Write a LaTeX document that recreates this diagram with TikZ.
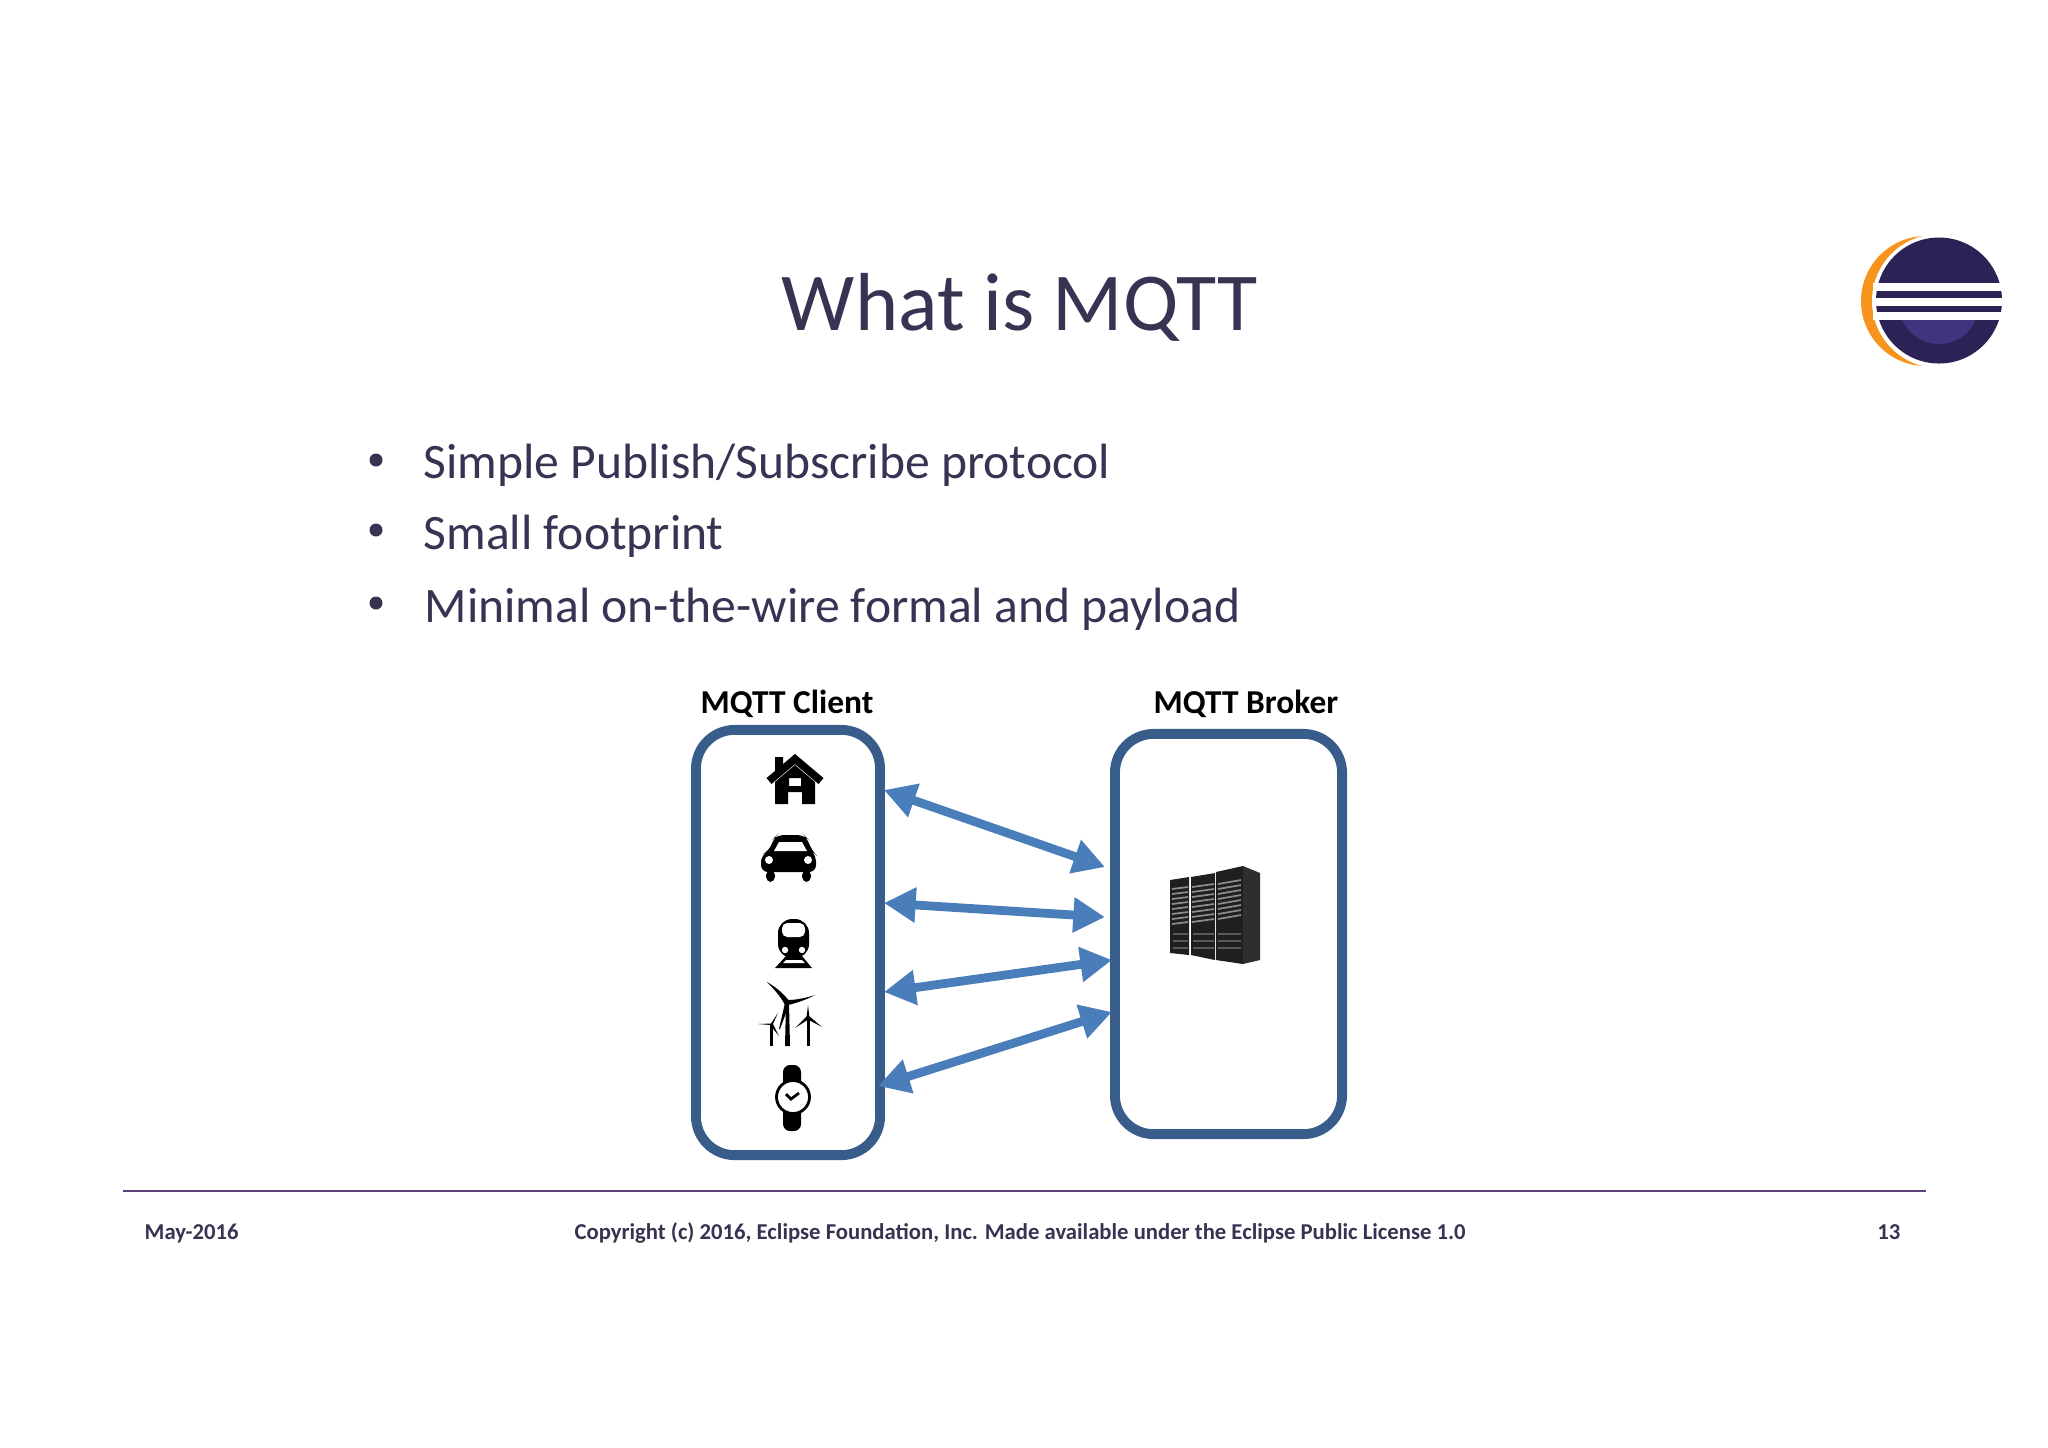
\documentclass[tikz,border=0pt]{standalone}
\usepackage{fontspec}
\setmainfont{Carlito}
\usetikzlibrary{arrows.meta}
\definecolor{slideink}{HTML}{3A3252}
\definecolor{boxblue}{HTML}{385D8A}
\definecolor{arrowblue}{HTML}{4A7EBB}
\definecolor{rulepurple}{HTML}{5E3F78}
\definecolor{logodark}{HTML}{2C2255}
\definecolor{logolight}{HTML}{40337F}
\definecolor{logoorange}{HTML}{F7941E}
\tikzset{
  titletext/.style={anchor=base,inner sep=0pt,text=slideink,font=\fontsize{23.4}{26}\selectfont},
  bullettext/.style={anchor=base west,inner sep=0pt,text=slideink,font=\fontsize{14.1}{17}\selectfont},
  foottext/.style={anchor=base,inner sep=0pt,text=slideink,font=\fontsize{6.45}{8}\selectfont\bfseries},
  headtext/.style={anchor=base west,inner sep=0pt,text=black,font=\fontsize{9.5}{12}\selectfont\bfseries},
  devicebox/.style={draw=boxblue,line width=2.8pt,rounded corners=11pt,inner sep=0pt},
  duplex/.style={draw=arrowblue,line width=2.5pt,{Stealth[length=9pt,width=9.5pt,inset=0pt]}-{Stealth[length=9pt,width=9.5pt,inset=0pt]}}
}
\begin{document}
\begin{tikzpicture}[x=0.01cm,y=-0.01cm]
        \useasboundingbox (0,0) rectangle (2048,1447);
        \fill[white] (0,0) rectangle (2048,1447);

        %heading and bullets
        \node[titletext] (Title) at (1020,330) {What is MQTT};
        \node[bullettext] (BulletA) at (423,478) {Simple Publish/Subscribe protocol};
        \node[bullettext] (BulletB) at (423,549) {Small footprint};
        \node[bullettext] (BulletC) at (424,622) {Minimal on-the-wire formal and payload};
        \foreach \y in {460,530,603}
        {
            \fill[slideink] (376,\y) circle (6.5);
        };

        %the two boxes
        \node[headtext] (ClientHead) at (700,713) {MQTT Client};
        \node[headtext] (BrokerHead) at (1153,713) {MQTT Broker};
        \node[devicebox,minimum width=1.84cm,minimum height=4.25cm] (Client) at (788,942.5) {};
        \node[devicebox,minimum width=2.27cm,minimum height=4cm] (Broker) at (1228.5,934) {};

        \coordinate (C1) at (884,790);
        \coordinate (C2) at (884,903);
        \coordinate (C3) at (884,992);
        \coordinate (C4) at (878,1086);
        \coordinate (B1) at (1105,867);
        \coordinate (B2) at (1105,917);
        \coordinate (B3) at (1112,960);
        \coordinate (B4) at (1112,1012);
        \foreach \u/\v in {C1/B1,C2/B2,C3/B3,C4/B4}
        {
            \draw[duplex] (\u) -- (\v);
        };

        %house
        \fill (775,757) -- (783,757) -- (783,768) -- (775,774) -- cycle;
        \draw[line width=2.2pt,miter limit=4] (769,781) -- (795,759) -- (821,781);
        \fill[even odd rule] (795,765) -- (815,782) -- (815,804) -- (802,804) -- (802,792) -- (788,792) -- (788,804) -- (775,804) -- (775,782) -- cycle
        (789,778) rectangle (801,786);

        %car
        \fill[rounded corners=2pt] (761,872) -- (761,855) -- (769,851) -- (774,838) -- (777,835) -- (804,835) -- (807,838) -- (812,851) -- (816,855) -- (816,872) -- cycle;
        \fill[rounded corners=1.5pt] (766,870) rectangle (775,882) (802,870) rectangle (811,882);
        \fill[white] (779,842) -- (802,842) -- (807,851) -- (774,851) -- cycle;
        \fill[white] (769,860) circle (4) (808,860) circle (4);

        %train
        \fill[rounded corners=4pt] (778,919) rectangle (809,958);
        \fill[white,rounded corners=1.5pt] (782,923) rectangle (805,937);
        \fill[white] (785,950) circle (3.2) (802,950) circle (3.2);
        \fill (786,956) -- (802,956) -- (812,968) -- (775,968) -- cycle;
        \fill[white] (786,960) -- (802,960) -- (805,963) -- (783,963) -- cycle;

        %wind turbines
        \fill (785,1046) -- (786,1003) -- (789,1003) -- (790,1046) -- cycle;
        \fill (767,982) .. controls (776,987) and (784,994) .. (790,1002) -- (785,1005) .. controls (781,997) and (774,989) .. cycle;
        \fill (815,995) .. controls (806,1000) and (796,1003) .. (788,1005) -- (787,1000) .. controls (796,1000) and (806,998) .. cycle;
        \fill (785,1003) -- (789,1005) -- (780,1029) -- (779,1029) -- cycle;
        \fill (770,1046) rectangle (773,1025);
        \fill (758,1024) -- (771,1023.5) -- (771,1025) -- cycle;
        \fill (778,1013) -- (772,1026) -- (770,1025) -- cycle;
        \fill (779,1036) -- (770,1025) -- (773,1024) -- cycle;
        \fill (807,1046) rectangle (809.5,1018);
        \fill (808,1005) -- (809.5,1018) -- (806.5,1018) -- cycle;
        \fill (795,1028) -- (807,1016) -- (809,1019) -- cycle;
        \fill (822,1027) -- (807,1019) -- (809,1016) -- cycle;

        %watch
        \fill[rounded corners=2pt] (783,1065) rectangle (801,1131);
        \draw[line width=0.8pt,fill=white] (793,1097) circle (16.5);
        \draw[line width=0.8pt] (786,1094) -- (791,1099) -- (799,1093);

        %server racks
        \fill[black!88] (1170,880) -- (1189,877) -- (1189,955) -- (1170,953) -- cycle;
        \fill[black!88] (1191,877) -- (1215,873) -- (1215,960) -- (1191,955) -- cycle;
        \fill[black!88] (1216,872) -- (1243,866) -- (1243,964) -- (1216,960) -- cycle;
        \fill[black!82] (1243,866) -- (1260,873) -- (1260,960) -- (1243,964) -- cycle;
        \foreach \y in {889,894,899,904,909,914,919,924}
        {
            \draw[black!45,line width=0.5pt] (1172,\y) -- (1188,\y-2);
            \draw[black!45,line width=0.5pt] (1192,\y-2) -- (1214,\y-5);
            \draw[black!45,line width=0.5pt] (1218,\y-5) -- (1241,\y-9);
        };
        \foreach \y in {934,941,948}
        {
            \draw[black!65,line width=0.4pt] (1173,\y) -- (1188,\y);
            \draw[black!65,line width=0.4pt] (1193,\y) -- (1214,\y);
            \draw[black!65,line width=0.4pt] (1218,\y) -- (1241,\y);
        };

        %logo
        \fill[logoorange] (1926,301) circle (65);
        \fill[white] (1939,301) circle (67);
        \fill[logodark] (1939,300.5) circle (63);
        \begin{scope}
            \clip (1876,319) rectangle (2002,364);
            \fill[logolight] (1939,304) circle (40);
        \end{scope}
        \foreach \y in {283,298,312}
        {
            \fill[white] (1873,\y) rectangle (2005,\y+7.5);
        };

        %footer
        \coordinate (RuleL) at (123,1191);
        \coordinate (RuleR) at (1926,1191);
        \draw[rulepurple,line width=0.7pt] (RuleL) -- (RuleR);
        \node[foottext,anchor=base west] (FootDate) at (144,1239) {May-2016};
        \node[foottext] (FootCopy) at (1020,1239) {Copyright (c) 2016, Eclipse Foundation, Inc. Made available under the Eclipse Public License 1.0};
        \node[foottext,anchor=base east] (FootPage) at (1901,1239) {13};
\end{tikzpicture}
\end{document}
